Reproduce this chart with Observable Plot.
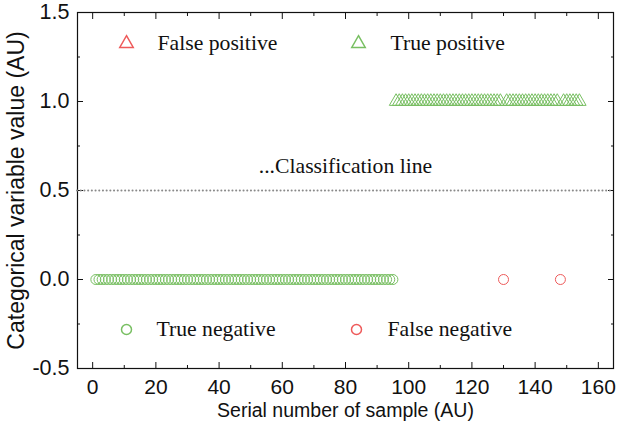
<!DOCTYPE html>
<html>
<head>
<meta charset="utf-8">
<script src="https://cdn.jsdelivr.net/npm/d3@7"></script>
<script src="https://cdn.jsdelivr.net/npm/@observablehq/plot@0.6"></script>
<style>
  html, body { margin: 0; padding: 0; background: #fff; }
  #chart { width: 618px; height: 425px; }
</style>
</head>
<body>
<div id="chart"></div>
<script>
// ---- data ----
const trueNegativeSamples = d3.range(1, 96);            // samples 1..95 at value 0
const falseNegativeSamples = [130, 148];                 // value 0, red circles
const truePositiveSamples = d3.range(96, 155).filter(s => s !== 130 && s !== 148); // value 1
const falsePositiveSamples = [];                         // none
const classificationValue = 0.5;
const xTicks = [0, 20, 40, 60, 80, 100, 120, 140, 160];
const xMinorTicks = [10, 30, 50, 70, 90, 110, 130, 150];
const yTicks = [-0.5, 0, 0.5, 1.0, 1.5];
const yMinorTicks = [-0.25, 0.25, 0.75, 1.25];
const legendTop = ["False positive", "True positive"];
const legendBottom = ["True negative", "False negative"];

const green = "#78bf62";
const red = "#ee5a5a";

const rows = [
  ...trueNegativeSamples.map(s => ({s, v: 0, kind: "TN"})),
  ...falseNegativeSamples.map(s => ({s, v: 0, kind: "FN"})),
  ...truePositiveSamples.map(s => ({s, v: 1, kind: "TP"})),
  ...falsePositiveSamples.map(s => ({s, v: 1, kind: "FP"}))
];

const serif = "'Liberation Serif', 'Times New Roman', serif";
const legendFont = 21.7;

const chart = Plot.plot({
  width: 618,
  height: 425,
  marginLeft: 77,
  marginRight: 5,
  marginTop: 12,
  marginBottom: 57,
  style: {fontFamily: "'Liberation Sans', Arial, sans-serif", fontSize: "21px", color: "#111", background: "#fff"},
  x: {domain: [-4.8, 164.8]},
  y: {domain: [-0.5, 1.5]},
  marks: [
    Plot.frame({stroke: "#111", strokeWidth: 1.2}),
    // axes
    Plot.axisX({anchor: "bottom", ticks: xTicks, tickSize: -6, tickPadding: 17, tickFormat: d => String(d), fontSize: 21,
      label: null}),
    Plot.text(["Serial number of sample (AU)"], {frameAnchor: "bottom", dy: 42, lineAnchor: "middle", fontSize: 19.5, fill: "#111"}),
    Plot.axisX({anchor: "bottom", ticks: xMinorTicks, tickSize: -3, text: null, label: null}),
    Plot.axisX({anchor: "top", ticks: xTicks, tickSize: -6, text: null, label: null}),
    Plot.axisX({anchor: "top", ticks: xMinorTicks, tickSize: -3, text: null, label: null}),
    Plot.axisY({anchor: "left", ticks: yTicks, tickSize: -6, tickPadding: 14, tickFormat: d => d.toFixed(1), fontSize: 21.5,
      label: null}),
    Plot.text(["Categorical variable value (AU)"], {frameAnchor: "left", dx: -61, rotate: -90, lineAnchor: "middle", textAnchor: "middle", fontSize: 23, fill: "#111"}),
    Plot.axisY({anchor: "left", ticks: yMinorTicks, tickSize: -3, text: null, label: null}),
    Plot.axisY({anchor: "right", ticks: yTicks, tickSize: -6, text: null, label: null}),
    Plot.axisY({anchor: "right", ticks: yMinorTicks, tickSize: -3, text: null, label: null}),
    // classification line
    Plot.ruleY([classificationValue], {stroke: "#8a8a8a", strokeWidth: 2, strokeDasharray: "0.1,3.6", strokeLinecap: "round"}),
    Plot.text(["...Classification line"], {frameAnchor: "top", dy: 154, lineAnchor: "middle", fontFamily: serif, fontSize: legendFont, fill: "#111"}),
    // data
    Plot.dot(rows.filter(d => d.kind === "TN"), {x: "s", y: "v", symbol: "circle", r: 5, stroke: green, fill: "none", strokeWidth: 1}),
    Plot.dot(rows.filter(d => d.kind === "FN"), {x: "s", y: "v", symbol: "circle", r: 5, stroke: red, fill: "none", strokeWidth: 1}),
    Plot.dot(rows.filter(d => d.kind === "TP"), {x: "s", y: "v", symbol: "triangle", r: 5, stroke: green, fill: "none", strokeWidth: 1}),
    Plot.dot(rows.filter(d => d.kind === "FP"), {x: "s", y: "v", symbol: "triangle", r: 5, stroke: red, fill: "none", strokeWidth: 1}),
    // legend (inside frame)
    Plot.dot([legendTop[0]], {frameAnchor: "top-left", dx: 49, dy: 31, symbol: "triangle", r: 5, stroke: red, fill: "none"}),
    Plot.text([legendTop[0]], {frameAnchor: "top-left", dx: 80, dy: 31, textAnchor: "start", lineAnchor: "middle", fontFamily: serif, fontSize: legendFont, fill: "#111"}),
    Plot.dot([legendTop[1]], {frameAnchor: "top-left", dx: 281, dy: 31, symbol: "triangle", r: 5, stroke: green, fill: "none"}),
    Plot.text([legendTop[1]], {frameAnchor: "top-left", dx: 313, dy: 31, textAnchor: "start", lineAnchor: "middle", fontFamily: serif, fontSize: legendFont, fill: "#111"}),
    Plot.dot([legendBottom[0]], {frameAnchor: "bottom-left", dx: 49, dy: -39, symbol: "circle", r: 5, stroke: green, fill: "none"}),
    Plot.text([legendBottom[0]], {frameAnchor: "bottom-left", dx: 79, dy: -39, textAnchor: "start", lineAnchor: "middle", fontFamily: serif, fontSize: legendFont, fill: "#111"}),
    Plot.dot([legendBottom[1]], {frameAnchor: "bottom-left", dx: 279, dy: -39, symbol: "circle", r: 5, stroke: red, fill: "none"}),
    Plot.text([legendBottom[1]], {frameAnchor: "bottom-left", dx: 310, dy: -39, textAnchor: "start", lineAnchor: "middle", fontFamily: serif, fontSize: legendFont, fill: "#111"})
  ]
});
document.getElementById("chart").appendChild(chart);
</script>
</body>
</html>
